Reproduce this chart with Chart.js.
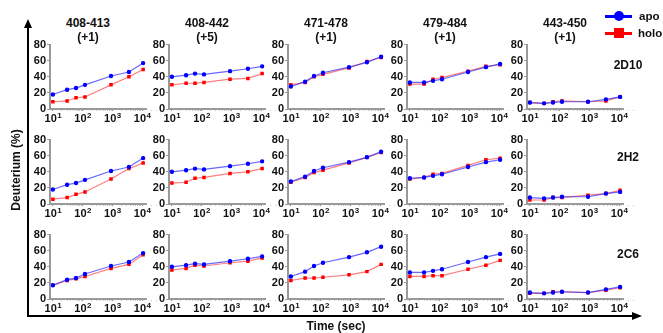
<!DOCTYPE html>
<html>
<head>
<meta charset="utf-8">
<script src="https://cdn.jsdelivr.net/npm/chart.js@4.4.1/dist/chart.umd.min.js"></script>
<style>
  body { margin: 0; width: 663px; height: 333px; position: relative; overflow: hidden; background: #fff;
         font-family: "Liberation Sans", Arial, sans-serif; color: #111; }
  canvas { position: absolute; }
  .txt { position: absolute; font-weight: bold; font-size: 12px; white-space: nowrap; transform: translate(-50%, -50%); }
  .ln { position: absolute; background: #000; }
</style>
</head>
<body>
<div id="wrap"></div>
<script>
'use strict'
// sampling times (sec)
var times = [10, 30, 60, 120, 900, 3600, 10800];
var peptides = ['408-413', '408-442', '471-478', '479-484', '443-450'];
var charges = ['(+1)', '(+5)', '(+1)', '(+1)', '(+1)'];
var antibodies = ['2D10', '2H2', '2C6'];
var yTicks = [0, 20, 40, 60, 80];
var xTickValues = [10, 100, 1000, 10000];
var xTickExp = ['1', '2', '3', '4'];   // shown as 10^n

// deuterium uptake (%), one row per peptide column
var apo2D10 = [
  [18, 24, 26, 30, 41, 46, 57],
  [40, 42, 44, 43, 47, 50, 53],
  [28, 34, 41, 45, 52, 58, 65],
  [33, 33, 35, 37, 46, 52, 56],
  [8, 7, 8, 9, 9, 12, 15]
];
var holo2D10 = [
  [9, 10, 14, 15, 30, 40, 49],
  [30, 32, 32, 33, 37, 38, 44],
  [30, 33, 40, 43, 51, 59, 64],
  [31, 31, 37, 39, 47, 53, 55],
  [8, 7, 9, 10, 9, 10, 15]
];
var apo2H2 = [
  [18, 24, 26, 30, 41, 46, 57],
  [40, 42, 44, 43, 47, 50, 53],
  [28, 34, 41, 45, 52, 58, 65],
  [32, 33, 35, 37, 46, 52, 55],
  [8, 7, 8, 9, 9, 13, 15]
];
var holo2H2 = [
  [6, 8, 12, 15, 31, 44, 51],
  [26, 27, 32, 33, 38, 40, 44],
  [27, 33, 39, 42, 51, 58, 64],
  [31, 33, 37, 38, 48, 55, 57],
  [5, 5, 8, 8, 11, 13, 17]
];
var apo2C6 = [
  [17, 24, 26, 31, 41, 46, 57],
  [40, 42, 44, 43, 47, 50, 53],
  [28, 34, 41, 45, 52, 58, 65],
  [33, 33, 35, 37, 46, 52, 56],
  [8, 7, 8, 9, 8, 12, 15]
];
var holo2C6 = [
  [17, 23, 25, 28, 38, 43, 55],
  [36, 38, 42, 41, 45, 47, 51],
  [23, 26, 26, 27, 30, 34, 43],
  [28, 28, 29, 29, 37, 42, 48],
  [7, 7, 9, 9, 8, 11, 14]
];
var apoRows = [apo2D10, apo2H2, apo2C6];
var holoRows = [holo2D10, holo2H2, holo2C6];

// panel placement
var axisX = [50, 169, 288, 407, 527];
var plotTop = [44, 139, 234];
var plotH = 65, plotW = 96, yAxisW = 22, xAxisH = 16, padTop = 7;

var wrap = document.getElementById('wrap');
var fam = '"Liberation Sans", Arial, sans-serif';
var tickFont = { family: fam, size: 11, weight: 'bold' };

// minor ticks for the log axis
var logTicks = [];
[1, 10, 100, 1000].forEach(function (d) {
  for (var k = 1; k < 10; k++) logTicks.push(d * 10 * k);
});
logTicks.push(10000);

// draws 10^n labels under the log axis
var powLabels = {
  id: 'powLabels',
  afterDraw: function (chart) {
    var s = chart.scales.x, ctx = chart.ctx;
    ctx.save();
    ctx.fillStyle = '#111';
    ctx.textAlign = 'left';
    ctx.textBaseline = 'alphabetic';
    xTickValues.forEach(function (v, i) {
      var px = s.getPixelForValue(v);
      var base = s.top + 13;
      ctx.font = 'bold 11px ' + fam;
      var w1 = ctx.measureText('10').width;
      ctx.font = 'bold 8px ' + fam;
      var w2 = ctx.measureText(xTickExp[i]).width;
      var x0 = px - (w1 + w2) / 2;
      ctx.font = 'bold 11px ' + fam;
      ctx.fillText('10', x0, base);
      ctx.font = 'bold 8px ' + fam;
      ctx.fillText(xTickExp[i], x0 + w1 + 0.5, base - 4);
    });
    ctx.restore();
  }
};

function addText(txt, x, y, extra) {
  var d = document.createElement('div');
  d.className = 'txt';
  d.textContent = txt;
  d.style.left = x + 'px';
  d.style.top = y + 'px';
  if (extra) d.style.cssText += extra;
  document.body.appendChild(d);
  return d;
}
function addLine(x, y, w, h, color) {
  var d = document.createElement('div');
  d.className = 'ln';
  d.style.left = x + 'px'; d.style.top = y + 'px';
  d.style.width = w + 'px'; d.style.height = h + 'px';
  if (color) d.style.background = color;
  document.body.appendChild(d);
  return d;
}

function makePanel(r, c) {
  var cv = document.createElement('canvas');
  var w = yAxisW + plotW + 12, h = padTop + plotH + xAxisH;
  cv.width = w; cv.height = h;
  cv.style.left = (axisX[c] - yAxisW) + 'px';
  cv.style.top = (plotTop[r] - padTop) + 'px';
  wrap.appendChild(cv);

  var apo = apoRows[r][c], holo = holoRows[r][c];
  new Chart(cv, {
    type: 'line',
    data: {
      datasets: [{
        label: 'apo',
        data: times.map(function (t, i) { return { x: t, y: apo[i] }; }),
        borderColor: 'rgba(40,40,255,0.7)',
        pointBackgroundColor: '#0000ff',
        pointBorderColor: '#0000ff',
        pointStyle: 'circle',
        pointRadius: 1.6,
        borderWidth: 1.2
      }, {
        label: 'holo',
        data: times.map(function (t, i) { return { x: t, y: holo[i] }; }),
        borderColor: 'rgba(255,40,40,0.6)',
        pointBackgroundColor: '#ff0000',
        pointBorderColor: '#ff0000',
        pointStyle: 'rect',
        pointRadius: 1.6,
        borderWidth: 1.2
      }]
    },
    options: {
      animation: false,
      responsive: false,
      events: [],
      layout: { padding: { top: padTop, right: 12, left: 0, bottom: 0 } },
      plugins: { legend: { display: false }, tooltip: { enabled: false } },
      scales: {
        x: {
          type: 'logarithmic',
          min: 8, max: 13500,
          afterBuildTicks: function (s) {
            s.ticks = logTicks.map(function (v) { return { value: v }; });
          },
          afterFit: function (s) { s.height = xAxisH; },
          ticks: {
            autoSkip: false, maxRotation: 0, padding: 0, font: tickFont,
            callback: function () { return ''; }
          },
          grid: {
            drawOnChartArea: false, tickLength: 2,
            tickColor: function (ctx) {
              return (ctx.tick && xTickValues.indexOf(ctx.tick.value) >= 0) ? '#888' : '#c8c8c8';
            }
          },
          border: { color: '#9a9a9a', width: 2 }
        },
        y: {
          min: 0, max: 80,
          afterBuildTicks: function (s) {
            s.ticks = yTicks.map(function (v) { return { value: v }; });
          },
          afterFit: function (s) { s.width = yAxisW; },
          ticks: { autoSkip: false, padding: 1, color: '#111', font: tickFont },
          grid: { drawOnChartArea: false, tickLength: 3, tickColor: '#9a9a9a' },
          border: { color: '#9a9a9a', width: 2 }
        }
      }
    },
    plugins: [powLabels]
  });
}

for (var r = 0; r < 3; r++) {
  for (var c = 0; c < 5; c++) makePanel(r, c);
}

// column titles
for (var c = 0; c < 5; c++) {
  addText(peptides[c], axisX[c] + 38, 23);
  addText(charges[c], axisX[c] + 38, 37);
}
// antibody labels
var rowLabelY = [65, 157, 254];
for (var r = 0; r < 3; r++) addText(antibodies[r], 628, rowLabelY[r]);

// big axes with arrows
addLine(27, 27, 2, 290);
addLine(27, 315, 606, 2);
var up = document.createElement('div');
up.style.cssText = 'position:absolute;left:24px;top:19px;width:0;height:0;border-left:4px solid transparent;border-right:4px solid transparent;border-bottom:9px solid #000;';
document.body.appendChild(up);
var rt = document.createElement('div');
rt.style.cssText = 'position:absolute;left:632px;top:312px;width:0;height:0;border-top:4px solid transparent;border-bottom:4px solid transparent;border-left:10px solid #000;';
document.body.appendChild(rt);

addText('Deuterium (%)', 16, 170, 'transform:translate(-50%,-50%) rotate(-90deg);');
addText('Time (sec)', 336, 326);

// legend
addLine(605, 15, 27, 3, '#0000ff');
var dot = document.createElement('div');
dot.style.cssText = 'position:absolute;left:614px;top:11px;width:10px;height:10px;border-radius:50%;background:#0000ff;';
document.body.appendChild(dot);
addText('apo', 639, 16, 'transform:translate(0,-50%);font-size:11.5px;');
addLine(605, 32, 27, 3, '#ff0000');
var sq = document.createElement('div');
sq.style.cssText = 'position:absolute;left:614px;top:28px;width:10px;height:10px;background:#ff0000;';
document.body.appendChild(sq);
addText('holo', 638, 33, 'transform:translate(0,-50%);font-size:11.5px;');
</script>
</body>
</html>
